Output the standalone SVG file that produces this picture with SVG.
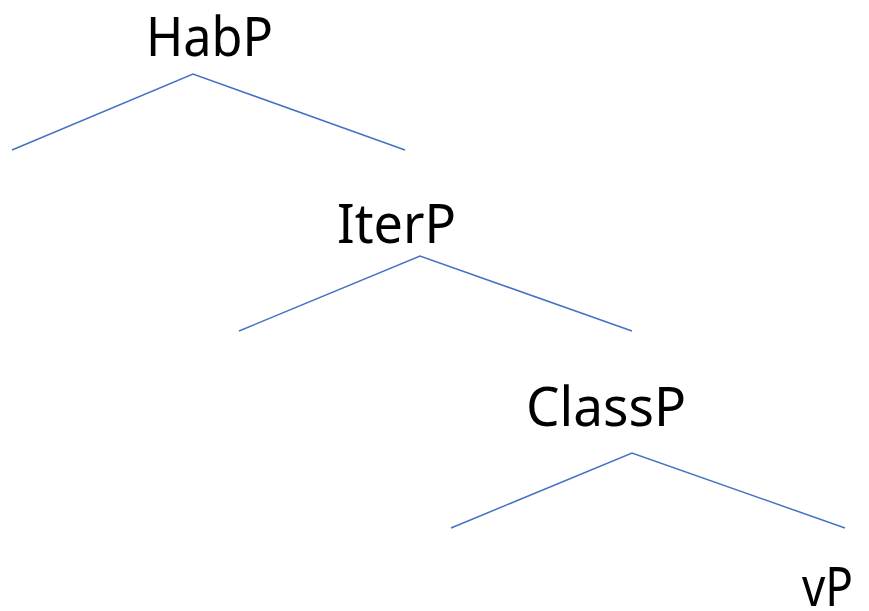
<svg xmlns="http://www.w3.org/2000/svg" width="869" height="611" viewBox="0 0 869 611">
<style>
.lbl{font-family:"Noto Sans","Open Sans","Liberation Sans",sans-serif;font-size:54px;fill:#000;}
.edge{stroke:#4472C4;stroke-width:1.5;fill:none;}
</style>
<rect width="869" height="611" fill="#fff"/>
<g id="connectors">
<polyline class="edge" points="12,150 193,74 405,150"/>
<polyline class="edge" points="239,331 420,256 632,331"/>
<polyline class="edge" points="451,528 632,453 845,528"/>
</g>
<g id="node-habp"><text class="lbl" x="146" y="56" textLength="127" lengthAdjust="spacingAndGlyphs">HabP</text></g>
<g id="node-iterp"><text class="lbl" x="337" y="243" textLength="119" lengthAdjust="spacingAndGlyphs">IterP</text></g>
<g id="node-classp"><text class="lbl" x="526" y="426" textLength="160" lengthAdjust="spacingAndGlyphs">ClassP</text></g>
<g id="node-vp"><text class="lbl" x="802" y="606" textLength="51" lengthAdjust="spacingAndGlyphs">vP</text></g>
</svg>
